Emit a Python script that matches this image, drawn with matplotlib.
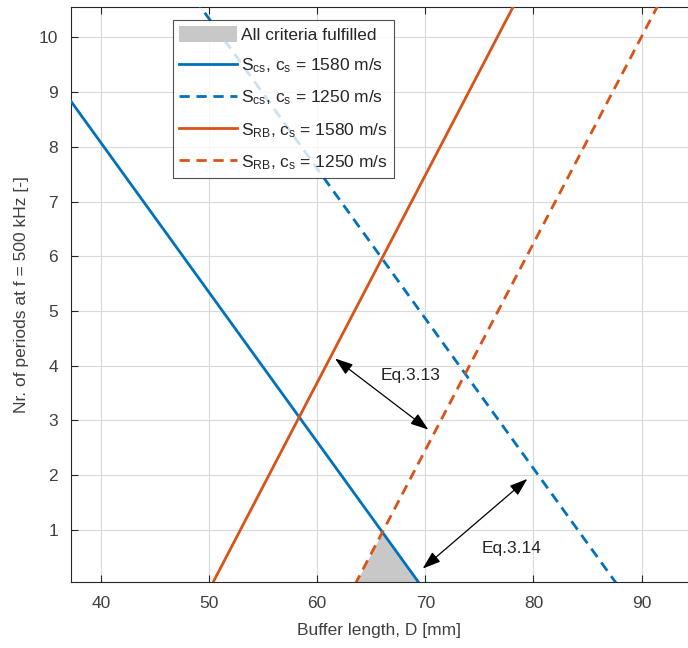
import numpy as np
import matplotlib
matplotlib.use("Agg")
import matplotlib.pyplot as plt

plt.rcParams['font.family'] = ['Liberation Sans', 'DejaVu Sans']
plt.rcParams['mathtext.fontset'] = 'custom'
plt.rcParams['mathtext.rm'] = 'Liberation Sans'
plt.rcParams['mathtext.it'] = 'Liberation Sans'

# Criterion lines: buffer length D [mm] vs. number of periods at 500 kHz
d_cs_1580 = [35.0, 70.0]
n_cs_1580 = [9.44, -0.13]
d_cs_1250 = [45.0, 88.0]
n_cs_1250 = [11.71, -0.07]
d_rb_1580 = [50.0, 80.0]
n_rb_1580 = [-0.10, 11.27]
d_rb_1250 = [63.5, 95.0]
n_rb_1250 = [0.0, 11.9]

labels = [r"S$_{\rm cs}$, c$_{\rm s}$ = 1580 m/s",
          r"S$_{\rm cs}$, c$_{\rm s}$ = 1250 m/s",
          r"S$_{\rm RB}$, c$_{\rm s}$ = 1580 m/s",
          r"S$_{\rm RB}$, c$_{\rm s}$ = 1250 m/s"]
fill_label = "All criteria fulfilled"

x_ticks = [40, 50, 60, 70, 80, 90]
y_ticks = [1, 2, 3, 4, 5, 6, 7, 8, 9, 10]

blue = "#0072BD"
orange = "#D95319"
txt = "#262626"
lbl = "#404040"

fig = plt.figure(figsize=(6.88, 6.48), dpi=100)
ax = fig.add_axes([0.1028, 0.1023, 0.8972, 0.8864])

# Region where all criteria hold: below S_cs (1580) and above S_RB (1250)
dg = np.linspace(60, 72, 1200)
upper = np.minimum(np.interp(dg, d_cs_1580, n_cs_1580),
                   np.interp(dg, d_rb_1250, n_rb_1250))
ax.fill_between(dg, 0, upper, where=upper > 0, color="#c8c8c8",
                linewidth=0, label=fill_label, zorder=2)

lw = 2.0
ax.plot(d_cs_1580, n_cs_1580, color=blue, lw=lw, label=labels[0], zorder=3)
l2, = ax.plot(d_cs_1250, n_cs_1250, color=blue, lw=lw, label=labels[1], zorder=3)
ax.plot(d_rb_1580, n_rb_1580, color=orange, lw=lw, label=labels[2], zorder=3)
l4, = ax.plot(d_rb_1250, n_rb_1250, color=orange, lw=lw, label=labels[3], zorder=3)
for ln in (l2, l4):
    ln.set_dashes((3.7, 2.4))

# Annotation arrows
arrow_kw = dict(arrowstyle="<|-|>,head_length=1.1,head_width=0.38",
                color="black", lw=0.9, shrinkA=0, shrinkB=0)
ax.annotate("", xy=(61.65, 4.13), xytext=(70.28, 2.83), arrowprops=arrow_kw)
ax.annotate("", xy=(69.76, 0.29), xytext=(79.44, 1.93), arrowprops=arrow_kw)
ax.text(68.63, 3.82, "Eq.3.13", fontsize=12.5, color=txt, ha="center", va="center")
ax.text(77.97, 0.66, "Eq.3.14", fontsize=12.5, color=txt, ha="center", va="center")

ax.set_xlim(37.2, 94.3)
ax.set_ylim(0.05, 10.55)
ax.set_xticks(x_ticks)
ax.set_yticks(y_ticks)
ax.grid(True, color="#d9d9d9", lw=0.8)
ax.set_axisbelow(True)
ax.tick_params(direction="in", top=True, right=False, length=5, width=0.8,
               colors=txt, labelsize=12.5, labelcolor=lbl)
ax.tick_params(axis="x", pad=10)
ax.tick_params(axis="y", pad=9)
for s in ("left", "bottom", "top"):
    ax.spines[s].set_color(txt)
    ax.spines[s].set_linewidth(0.8)
ax.spines["right"].set_visible(False)

ax.set_xlabel("Buffer length, D [mm]", fontsize=12.5, color=lbl, labelpad=9)
ax.set_ylabel("Nr. of periods at f = 500 kHz [-]", fontsize=12.5, color=lbl,
              labelpad=7)

leg = ax.legend(loc="upper left", bbox_to_anchor=(0.166, 0.978), borderaxespad=0,
                fontsize=12.5, frameon=True, fancybox=False, edgecolor=txt,
                handlelength=3.3, handleheight=1.05, handletextpad=0.25,
                labelspacing=0.78, borderpad=0.35)
leg.get_frame().set_linewidth(0.8)
for t in leg.get_texts():
    t.set_color(txt)

fig.savefig("out.png", dpi=100)
